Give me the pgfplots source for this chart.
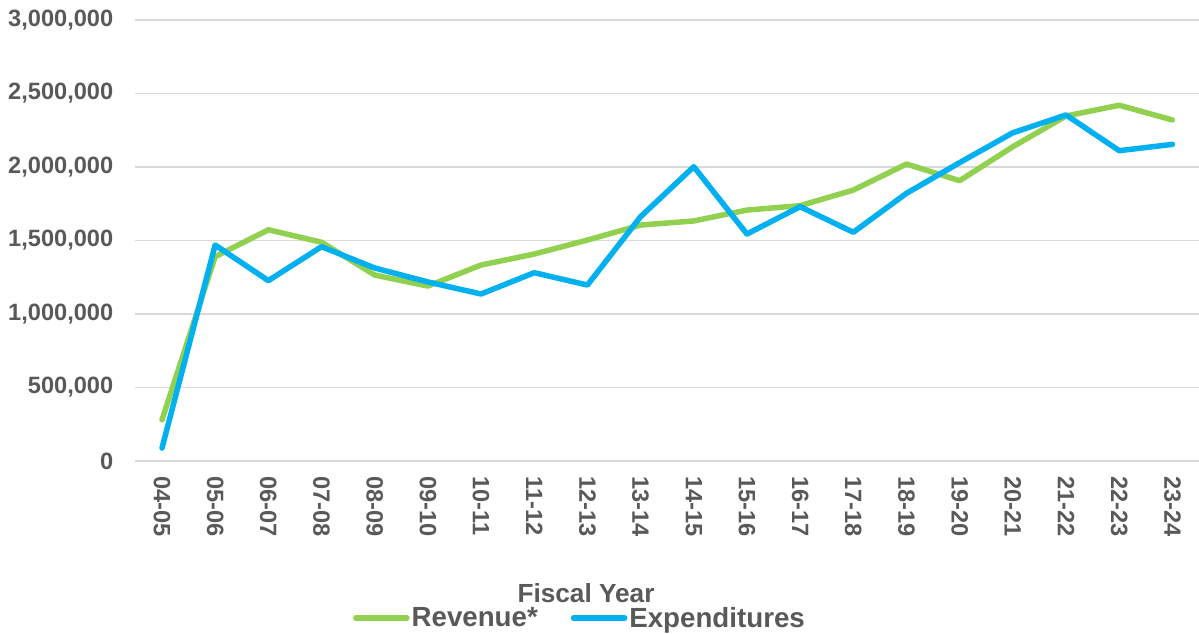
\documentclass[border=0pt]{standalone}
\usepackage{fontspec}
\setmainfont{Liberation Sans}
\usepackage{pgfplots}
\pgfplotsset{compat=1.18}
\definecolor{txt}{HTML}{595959}
\definecolor{grd}{HTML}{D9D9D9}
\definecolor{rev}{HTML}{92D050}
\definecolor{expd}{HTML}{00B0F0}
\begin{document}
\begin{tikzpicture}
\path[use as bounding box] (0bp,0bp) rectangle (1199bp,634bp);
\begin{axis}[
  scale only axis,
  width=1063.6bp, height=441bp,
  at={(135.4bp,173bp)}, anchor=south west,
  xmin=-0.5, xmax=19.5, ymin=0, ymax=3000000,
  xtick={0,...,19},
  xticklabels={04-05,05-06,06-07,07-08,08-09,09-10,10-11,11-12,12-13,13-14,14-15,15-16,16-17,17-18,18-19,19-20,20-21,21-22,22-23,23-24},
  ytick={0,500000,1000000,1500000,2000000,2500000,3000000},
  scaled y ticks=false,
  /pgf/number format/fixed,
  /pgf/number format/precision=0,
  /pgf/number format/1000 sep={,},
  /pgf/number format/assume math mode=true,
  axis line style={draw=none},
  tick style={draw=none},
  ymajorgrids,
  grid style={grd, line width=1.5bp},
  ticklabel style={font=\fontsize{23.6bp}{28bp}\selectfont\bfseries, text=txt, inner sep=0pt},
  yticklabel shift=22bp,
  yticklabel style={anchor=east},
  xticklabel shift=15.5bp,
  xticklabel style={rotate=-90, anchor=west},
  legend columns=2,
  legend style={at={(rel axis cs:0.418,-0.356)}, anchor=center, draw=none, fill=none,
    inner sep=0pt, font=\fontsize{27.7bp}{32bp}\selectfont\bfseries, text=txt,
    nodes={inner sep=2bp},
    /tikz/every even column/.append style={column sep=31bp}},
  legend cell align=left,
  legend image code/.code={\draw[#1, line width=5.5bp, line cap=round] (2.5bp,0bp) -- (53.5bp,0bp);},
  every axis plot/.append style={line width=5.5bp, line cap=round, line join=round},
]
\addplot[rev, mark=none] coordinates {
(0,280000) (1,1390000) (2,1573000) (3,1488000) (4,1265000) (5,1190000) (6,1333000) (7,1408000) (8,1503000) (9,1605000)
(10,1633000) (11,1707000) (12,1737000) (13,1843000) (14,2020000) (15,1907000) (16,2138000) (17,2347000) (18,2420000) (19,2320000)};
\addlegendentry{Revenue*}
\addplot[expd, mark=none] coordinates {
(0,88000) (1,1469000) (2,1227000) (3,1458000) (4,1313000) (5,1218000) (6,1136000) (7,1281000) (8,1197000) (9,1662000)
(10,2002000) (11,1544000) (12,1730000) (13,1556000) (14,1821000) (15,2030000) (16,2233000) (17,2354000) (18,2111000) (19,2154000)};
\addlegendentry{Expenditures}
\end{axis}
\node[anchor=base, text=txt, font=\fontsize{26.2bp}{30bp}\selectfont\bfseries, inner sep=0pt] at (586bp,32bp) {Fiscal Year};
\end{tikzpicture}
\end{document}
